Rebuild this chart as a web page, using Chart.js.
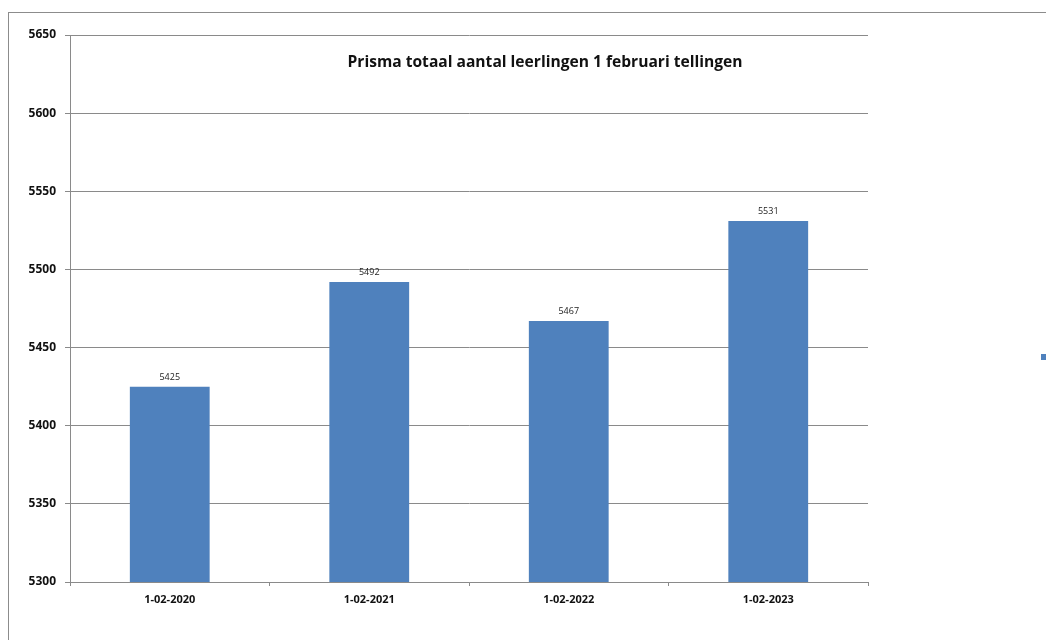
<!DOCTYPE html>
<html>
<head>
<meta charset="utf-8">
<script src="https://cdn.jsdelivr.net/npm/chart.js@4/dist/chart.umd.min.js"></script>
<style>
  html, body { margin: 0; padding: 0; background: #fff; overflow: hidden; }
  #frame {
    position: absolute; left: 8px; top: 12px; width: 1100px; height: 700px;
    border-top: 1px solid #8c8c8c; border-left: 1px solid #8c8c8c;
  }
  #wrap { position: absolute; left: 0; top: 0; width: 1046px; height: 640px; }
</style>
</head>
<body>
<div id="frame"></div>
<div id="wrap"><canvas id="prismaChart"></canvas></div>
<script>
// data
const dates = ["1-02-2020", "1-02-2021", "1-02-2022", "1-02-2023"];
const leerlingen = [5425, 5492, 5467, 5531];
const seriesName = "Reeks1";
const chartTitle = "Prisma totaal aantal leerlingen 1 februari tellingen";

const barColor = "#4F81BD";
const gridColor = "#8a8a8a";

// labels boven de staven
const valueLabels = {
  id: "valueLabels",
  afterDatasetsDraw(chart) {
    const ctx = chart.ctx;
    const meta = chart.getDatasetMeta(0);
    ctx.save();
    ctx.font = "9px 'Open Sans', sans-serif";
    ctx.fillStyle = "#222";
    ctx.textAlign = "center";
    ctx.textBaseline = "bottom";
    meta.data.forEach((bar, i) => {
      ctx.fillText(chart.data.datasets[0].data[i], bar.x, bar.y - 5);
    });
    ctx.restore();
  },
};

// titel binnen het plotgebied + legenda-blokje rechts
const innerTitle = {
  id: "innerTitle",
  afterDraw(chart) {
    const ctx = chart.ctx;
    const area = chart.chartArea;
    ctx.save();
    ctx.font = "bold 15.6px 'Open Sans', sans-serif";
    ctx.fillStyle = "#111";
    ctx.textAlign = "center";
    ctx.textBaseline = "middle";
    ctx.fillText(chartTitle, 545, area.top + 28);

    ctx.fillStyle = chart.data.datasets[0].backgroundColor;
    ctx.fillRect(area.right + 173, 354, 6, 6);
    ctx.restore();
  },
};

new Chart(document.getElementById("prismaChart"), {
  type: "bar",
  data: {
    labels: dates,
    datasets: [
      {
        label: seriesName,
        data: leerlingen,
        backgroundColor: barColor,
        categoryPercentage: 1,
        barPercentage: 0.4,
      },
    ],
  },
  options: {
    responsive: true,
    maintainAspectRatio: false,
    animation: false,
    layout: { padding: { left: 0, top: 35, right: 178, bottom: 0 } },
    plugins: {
      legend: { display: false },
      title: { display: false },
      tooltip: { enabled: false },
    },
    scales: {
      x: {
        afterFit: (scale) => { scale.height = 58; },
        grid: {
          offset: true,
          drawOnChartArea: false,
          drawTicks: true,
          tickLength: 4,
          color: gridColor,
        },
        border: { color: gridColor },
        ticks: {
          padding: 7,
          color: "#111",
          font: { family: "'Open Sans', sans-serif", size: 11, weight: "bold" },
        },
      },
      y: {
        min: 5300,
        max: 5650,
        afterFit: (scale) => { scale.width = 70; },
        grid: { color: gridColor, tickLength: 5 },
        border: { color: gridColor },
        ticks: {
          stepSize: 50,
          padding: 9,
          color: "#111",
          font: { family: "'Open Sans', sans-serif", size: 12, weight: "bold" },
          callback: (value) => String(value),
        },
      },
    },
  },
  plugins: [valueLabels, innerTitle],
});
</script>
</body>
</html>
